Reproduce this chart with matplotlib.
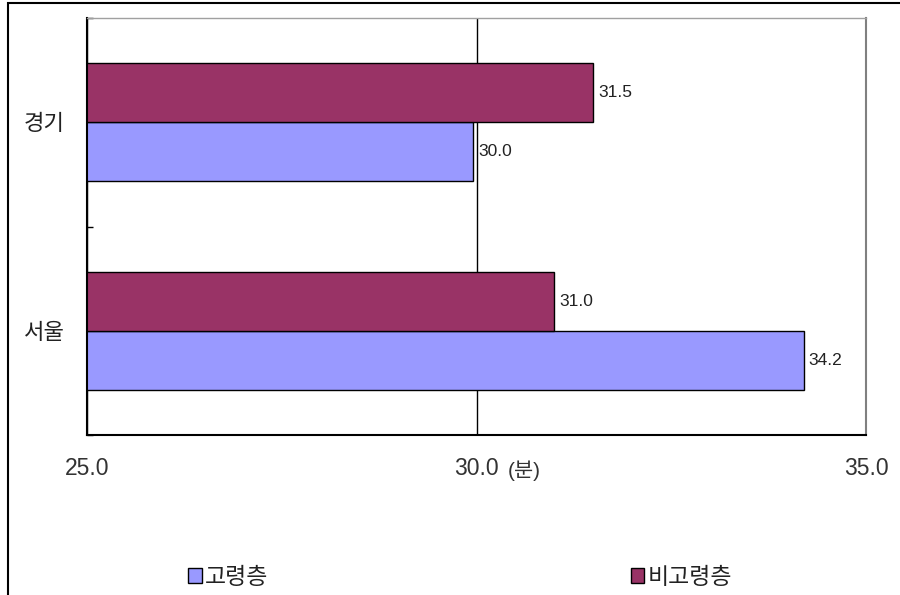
import matplotlib.pyplot as plt
from matplotlib.patches import Rectangle

plt.rcParams['font.family'] = ['Liberation Sans', 'Noto Sans CJK KR', 'DejaVu Sans']

regions = ['서울', '경기']
elderly = [34.2, 29.96]       # 고령층
non_elderly = [31.0, 31.5]    # 비고령층
series_names = ['고령층', '비고령층']
x_ticks = [25.0, 30.0, 35.0]

blue = '#9999FF'
maroon = '#993366'

fig = plt.figure(figsize=(9, 5.95), dpi=100)
ax = fig.add_axes([87/900, 1 - 435/595, (866 - 87)/900, (435 - 18)/595])

h = 0.283
ypos = range(len(regions))
b1 = ax.barh([y - h/2 for y in ypos], elderly, height=h, color=blue,
             edgecolor='black', linewidth=1, label=series_names[0])
b2 = ax.barh([y + h/2 for y in ypos], non_elderly, height=h, color=maroon,
             edgecolor='black', linewidth=1, label=series_names[1])

for bars, vals in ((b1, elderly), (b2, non_elderly)):
    for rect, v in zip(bars, vals):
        ax.annotate(f'{v:.1f}', xy=(v, rect.get_y() + rect.get_height()/2),
                    xytext=(5, 0), textcoords='offset pixels', va='center',
                    ha='left', fontsize=12.5, color='#222222')

ax.set_xlim(25, 35)
ax.set_ylim(-0.5, 1.5)
ax.set_xticks(x_ticks)
ax.set_xticklabels([f'{t:.1f}' for t in x_ticks], fontsize=16.5, color='#333333')
ax.annotate('(분)', xy=(30, 0), xycoords=ax.get_xaxis_transform(),
            xytext=(31, -42), textcoords='offset pixels', ha='left', va='baseline',
            fontsize=15, color='#333333')
ax.tick_params(axis='x', length=0, pad=16)

ax.set_yticks(list(ypos))
ax.set_yticklabels(regions, fontsize=16, color='#222222')
ax.set_yticks([-0.5, 0.5, 1.5], minor=True)
ax.tick_params(axis='y', which='major', length=0, pad=16)
ax.tick_params(axis='y', which='minor', direction='in', length=4.5, width=1, color='black')

# vertical gridline at 30 sits behind the bars
ax.set_axisbelow(True)
ax.grid(axis='x', color='black', linewidth=1)

for side in ('left', 'bottom'):
    ax.spines[side].set_color('black')
    ax.spines[side].set_linewidth(1.5)
ax.spines['top'].set_color('#a0a0a0')
ax.spines['top'].set_linewidth(1)
ax.spines['right'].set_color('#808080')
ax.spines['right'].set_linewidth(1.5)

leg = fig.legend(handles=[b1, b2], loc='center left', ncol=2,
                 bbox_to_anchor=(188/900, 1 - 577/595), frameon=False,
                 fontsize=16.5, handlelength=0.6, handleheight=0.6,
                 handletextpad=0.15, columnspacing=15.8, borderpad=0,
                 borderaxespad=0)
for t in leg.get_texts():
    t.set_color('#222222')

# outer frame of the chart area
fig.patches.append(Rectangle((8/900, -0.05), 1.1, 1 - 3/595 + 0.05,
                             transform=fig.transFigure, fill=False,
                             edgecolor='black', linewidth=1.5))

fig.savefig('out.png', dpi=100)
